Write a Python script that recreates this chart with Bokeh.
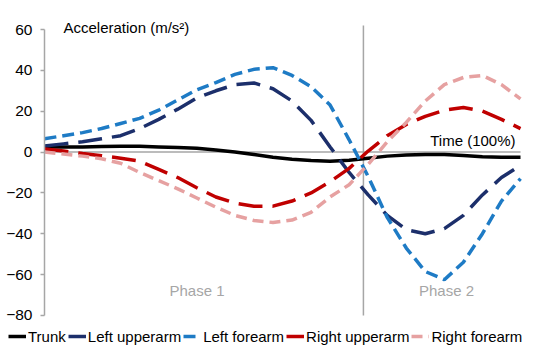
from bokeh.plotting import figure
from bokeh.models import Label, Legend, LegendItem, SingleIntervalTicker, Range1d, LinearAxis
from bokeh.embed import file_html
from bokeh.resources import INLINE

# Time (% of movement)
time_pct = [0, 4, 8, 12, 16, 20, 24, 28, 32, 36, 40, 44, 48, 52, 56, 60, 64, 68, 72, 76, 80, 84, 88, 92, 96, 100]

trunk = [2.5, 2.5, 2.5, 2.7, 2.8, 2.8, 2.5, 2.2, 1.8, 1.0, 0.0, -1.2, -2.6, -3.5, -4.2, -4.5, -4.0, -3.0, -2.0, -1.5, -1.2, -1.2, -1.7, -2.3, -2.6, -2.6]
left_upperarm = [3.0, 4.0, 5.0, 6.5, 8.0, 11.5, 16.0, 21.0, 26.5, 30.0, 33.0, 33.8, 31.0, 25.0, 15.5, 2.5, -10.0, -21.0, -31.0, -38.0, -40.0, -37.5, -31.0, -21.0, -12.5, -6.5]
left_forearm = [6.5, 8.0, 9.5, 11.5, 14.0, 16.5, 20.5, 25.5, 30.5, 34.0, 38.0, 40.5, 41.3, 37.5, 32.0, 23.0, 6.0, -12.0, -32.0, -47.0, -58.5, -62.5, -54.0, -40.0, -24.0, -13.0]
right_upperarm = [1.5, 0.5, -0.7, -1.8, -3.0, -4.5, -8.5, -12.5, -17.5, -22.0, -25.0, -26.5, -26.5, -24.0, -20.0, -14.5, -8.0, 0.5, 8.0, 13.5, 17.5, 20.5, 21.8, 20.0, 16.0, 11.5]
right_forearm = [0.0, -1.0, -2.0, -3.3, -5.5, -10.0, -14.0, -18.0, -22.5, -27.0, -31.0, -33.5, -34.5, -33.3, -29.5, -22.0, -16.0, -6.0, 5.0, 14.5, 25.0, 33.0, 36.5, 37.5, 33.0, 26.0]

series_labels = ["Trunk", "Left upperarm", "Left forearm", "Right upperarm", "Right forearm"]
phase_labels = ["Phase 1", "Phase 2"]

phase_split = 67
t_start, t_end = 0, 100
y_ticks_interval = 20
y_min, y_max = -80, 60

FONT = "Liberation Sans"
GRAY = "#a6a6a6"

p = figure(width=536, height=360, output_backend="svg", toolbar_location=None,
           x_range=Range1d(-9.24, 103.36), y_range=Range1d(-102.07, 74.2),
           min_border=0, x_axis_location=None, y_axis_location=None)
p.outline_line_color = None
p.grid.visible = False
p.background_fill_color = "white"
p.border_fill_color = "white"

ya = LinearAxis(fixed_location=0)
ya.ticker = SingleIntervalTicker(interval=y_ticks_interval)
ya.bounds = (y_min, y_max)
ya.axis_line_color = GRAY
ya.axis_line_width = 1.5
ya.major_tick_line_color = GRAY
ya.major_tick_line_width = 1.5
ya.major_tick_out = 4
ya.major_tick_in = 0
ya.minor_tick_line_color = None
ya.major_label_text_font = FONT
ya.major_label_text_font_size = "15.5px"
ya.major_label_text_color = "black"
ya.major_label_standoff = 8
p.add_layout(ya, "left")

# zero line and phase boundary
p.segment(x0=[t_start], y0=[0], x1=[t_end], y1=[0], line_color=GRAY, line_width=1.5)
p.segment(x0=[phase_split], y0=[y_min], x1=[phase_split], y1=[62], line_color=GRAY, line_width=1.5)

r_trunk = p.line(time_pct, trunk, line_color="black", line_width=3.5)
r_lu = p.line(time_pct, left_upperarm, line_color="#1c2f6b", line_width=3.5, line_dash="24 10")
r_lf = p.line(time_pct, left_forearm, line_color="#1e7bc5", line_width=3.5, line_dash="12 6")
r_ru = p.line(time_pct, right_upperarm, line_color="#c00000", line_width=3.5, line_dash="24 10")
r_rf = p.line(time_pct, right_forearm, line_color="#e6a1a1", line_width=3.5, line_dash="11 6")

p.add_layout(Label(x=63, y=333, x_units="screen", y_units="screen", text="Acceleration (m/s²)",
                   text_font=FONT, text_font_size="15px", text_baseline="middle", text_color="black"))
p.add_layout(Label(x=515, y=220.5, x_units="screen", y_units="screen", text="Time (100%)",
                   text_font=FONT, text_font_size="15px", text_baseline="middle", text_align="right",
                   text_color="black"))
p.add_layout(Label(x=196.5, y=70, x_units="screen", y_units="screen", text=phase_labels[0],
                   text_font=FONT, text_font_size="15px", text_baseline="middle", text_align="center",
                   text_color=GRAY))
p.add_layout(Label(x=446, y=70, x_units="screen", y_units="screen", text=phase_labels[1],
                   text_font=FONT, text_font_size="15px", text_baseline="middle", text_align="center",
                   text_color=GRAY))

legend = Legend(items=[LegendItem(label=lab, renderers=[r]) for lab, r in
                       zip(series_labels, [r_trunk, r_lu, r_lf, r_ru, r_rf])],
                orientation="horizontal", location=(8, 14))
legend.label_text_font = FONT
legend.label_text_font_size = "15px"
legend.label_text_color = "black"
legend.glyph_width = 18
legend.glyph_height = 20
legend.label_standoff = 2
legend.spacing = 2
legend.padding = 4
legend.margin = 0
legend.border_line_color = None
legend.background_fill_alpha = 0
p.add_layout(legend, "center")

open("out.html", "w").write(file_html(p, INLINE))
